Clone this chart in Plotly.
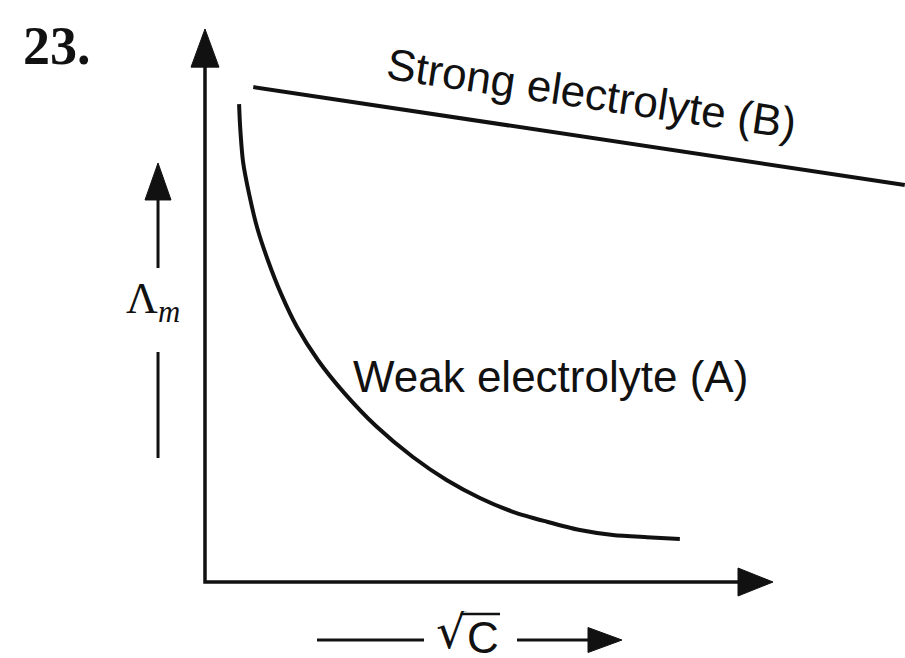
import plotly.graph_objects as go

# ---- data (arbitrary units; origin at the corner of the axes) ----
strong_sqrtC = [0.85, 12.32]
strong_lambda = [8.95, 7.18]

weak_sqrtC = [0.60, 0.62, 0.67, 0.78, 0.92, 1.11, 1.34, 1.62, 1.99, 2.45,
              3.01, 3.66, 4.26, 4.84, 5.42, 6.02, 6.60, 7.18, 7.78, 8.36]
weak_lambda = [8.64, 8.21, 7.60, 7.00, 6.40, 5.81, 5.21, 4.61, 4.01, 3.42,
               2.82, 2.26, 1.84, 1.52, 1.27, 1.09, 0.94, 0.85, 0.81, 0.78]

strong_label = "Strong electrolyte (B)"
weak_label = "Weak electrolyte (A)"
question_label = "23."
y_label = "Λ<sub><i>m</i></sub>"
x_label_root = "√"
x_label_var = "C"

AXIS_LEN = 10.0
X_RANGE = [-3.609, 12.324]
Y_RANGE = [-1.374, 10.524]

BLACK = "#111111"

fig = go.Figure()

fig.add_trace(go.Scatter(x=strong_sqrtC, y=strong_lambda, mode="lines",
                         line=dict(color=BLACK, width=4), hoverinfo="skip"))
fig.add_trace(go.Scatter(x=weak_sqrtC, y=weak_lambda, mode="lines",
                         line=dict(color=BLACK, width=4, shape="spline", smoothing=0.8),
                         hoverinfo="skip"))

shapes = []


def line(x0, y0, x1, y1, w=3.5):
    shapes.append(dict(type="line", xref="x", yref="y", x0=x0, y0=y0, x1=x1, y1=y1,
                       line=dict(color=BLACK, width=w)))


def tri(p):
    d = "M {},{} L {},{} L {},{} Z".format(*p[0], *p[1], *p[2])
    shapes.append(dict(type="path", xref="x", yref="y", path=d,
                       fillcolor=BLACK, line=dict(color=BLACK, width=1)))


# main axes (L shaped, with miter corner)
shapes.append(dict(type="path", xref="x", yref="y",
                   path="M 0,9.4 L 0,0 L 9.45,0",
                   line=dict(color=BLACK, width=3.5)))
tri([(-0.246, 9.31), (0, AXIS_LEN), (0.246, 9.31)])
tri([(9.384, -0.253), (AXIS_LEN, 0), (9.384, 0.253)])

# Lambda_m side arrow
ax = -0.827
line(ax, 2.242, ax, 4.159, 3)
line(ax, 5.678, ax, 6.95, 3)
tri([(ax - 0.229, 6.908), (ax, 7.577), (ax + 0.229, 6.908)])

# sqrt(C) bottom arrow
by = -1.049
line(1.972, by, 3.856, by, 3)
line(5.493, by, 6.78, by, 3)
tri([(6.743, by - 0.226), (7.342, by), (6.743, by + 0.226)])
# overline of the radical
line(4.50, -0.579, 5.194, -0.579, 2.5)

annotations = [
    dict(x=-2.606, y=9.69, text="<b>" + question_label + "</b>", showarrow=False,
         font=dict(family="Liberation Serif", size=54, color=BLACK),
         xanchor="center", yanchor="middle"),
    dict(x=6.81, y=8.84, text=strong_label, showarrow=False, textangle=8.4,
         font=dict(family="Liberation Sans", size=44, color=BLACK),
         xanchor="center", yanchor="middle"),
    dict(x=6.074, y=3.725, text=weak_label, showarrow=False,
         font=dict(family="Liberation Sans", size=44, color=BLACK),
         xanchor="center", yanchor="middle"),
    dict(x=-0.915, y=5.08, text=y_label, showarrow=False,
         font=dict(family="Liberation Serif", size=44, color=BLACK),
         xanchor="center", yanchor="middle"),
    dict(x=4.34, y=-0.89, text=x_label_root, showarrow=False, height=40,
         font=dict(family="DejaVu Sans", size=48, color=BLACK),
         xanchor="center", yanchor="middle"),
    dict(x=4.89, y=-1.0, text=x_label_var, showarrow=False, height=36,
         font=dict(family="Liberation Sans", size=44, color=BLACK),
         xanchor="center", yanchor="middle"),
]

fig.update_layout(
    width=905, height=658, margin=dict(l=0, r=0, t=0, b=0),
    paper_bgcolor="white", plot_bgcolor="white", showlegend=False,
    xaxis=dict(range=X_RANGE, visible=False, fixedrange=True),
    yaxis=dict(range=Y_RANGE, visible=False, fixedrange=True),
    shapes=shapes, annotations=annotations,
)

fig.write_html("out.html", config={"displayModeBar": False})
